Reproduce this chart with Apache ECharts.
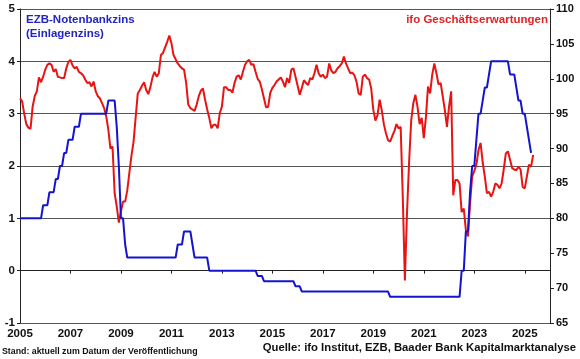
<!DOCTYPE html>
<html>
<head>
<meta charset="utf-8">
<script src="https://cdn.jsdelivr.net/npm/echarts@6/dist/echarts.min.js"></script>
<style>
html,body{margin:0;padding:0;background:#fff;}
#chart{width:580px;height:359px;}
</style>
</head>
<body>
<div id="chart"></div>
<script>
// Monthly data starting January 2005
var startYear = 2005;
var yearLabels = ['2005','2007','2009','2011','2013','2015','2017','2019','2021','2023','2025'];
var leftTicks = ['-1','0','1','2','3','4','5'];
var rightTicks = ['65','70','75','80','85','90','95','100','105','110'];

// ifo Geschäftserwartungen (Jan 2005 - May 2025)
var ifoExpectations = [
  97.2,96.8,95.0,93.5,93.0,92.8,96.0,97.5,98.2,100.2,99.5,100.3,
  101.3,102.0,102.2,102.0,101.0,101.4,100.3,100.2,100.1,100.1,101.5,102.4,
  102.7,101.9,101.5,101.7,101.0,100.8,100.5,99.9,99.4,99.5,98.9,99.6,
  98.2,97.5,97.2,96.5,95.8,94.6,92.7,90.0,90.3,83.6,81.7,79.4,
  81.0,82.4,82.4,84.0,86.5,89.0,91.0,94.5,97.9,98.4,99.0,99.5,
  98.4,97.8,98.8,100.2,101.0,100.3,100.8,103.4,103.7,104.5,105.3,106.2,
  105.1,103.4,102.8,102.2,101.8,101.5,101.3,99.4,96.3,95.8,95.6,95.4,
  96.3,97.5,98.3,98.6,97.0,95.6,94.4,92.9,93.4,93.4,92.9,95.1,
  96.0,98.8,98.8,98.4,98.4,98.0,99.4,100.3,100.5,99.9,101.0,102.0,
  102.5,102.7,102.0,102.1,101.0,100.0,99.6,98.5,97.2,95.9,96.0,98.0,
  98.7,99.1,99.6,99.9,100.2,99.6,98.8,100.1,99.4,101.3,101.5,100.3,
  99.0,97.7,98.7,99.8,99.4,99.1,100.1,99.9,100.8,102.0,100.8,100.3,
  100.6,100.1,100.3,102.2,101.2,100.8,101.0,101.5,101.8,102.2,103.2,102.2,
  101.5,100.8,100.9,100.5,99.6,97.9,97.7,100.3,100.6,100.1,99.9,98.6,
  95.5,94.0,94.8,97.0,95.5,93.5,92.2,91.2,91.0,91.8,92.5,93.5,
  92.9,93.1,83.1,71.1,80.7,88.0,94.0,96.5,97.7,96.0,93.5,94.4,
  91.5,94.5,98.9,97.9,100.6,102.2,100.8,99.2,99.4,97.5,95.5,93.1,
  96.0,98.2,83.3,85.5,85.5,85.0,80.9,81.4,78.3,77.4,82.2,86.0,
  86.8,87.7,89.8,90.8,88.0,86.0,83.6,83.8,83.1,83.8,85.0,84.8,
  84.3,85.0,87.0,89.3,89.6,88.4,87.2,87.0,86.9,87.4,87.0,84.5,
  84.3,86.0,87.7,87.4,89.1
];

// EZB-Einlagenzins (Jan 2005 - Apr 2025)
var ecbDepositRate = [
  1,1,1,1,1,1,1,1,1,1,1,1.25,
  1.25,1.25,1.5,1.5,1.5,1.75,1.75,2,2,2.25,2.25,2.5,
  2.5,2.5,2.75,2.75,2.75,3,3,3,3,3,3,3,
  3,3,3,3,3,3,3.25,3.25,3.25,3.25,2.75,2,
  1,1,0.5,0.25,0.25,0.25,0.25,0.25,0.25,0.25,0.25,0.25,
  0.25,0.25,0.25,0.25,0.25,0.25,0.25,0.25,0.25,0.25,0.25,0.25,
  0.25,0.25,0.25,0.5,0.5,0.5,0.75,0.75,0.75,0.75,0.5,0.25,
  0.25,0.25,0.25,0.25,0.25,0.25,0,0,0,0,0,0,
  0,0,0,0,0,0,0,0,0,0,0,0,
  0,0,0,0,0,-0.1,-0.1,-0.1,-0.2,-0.2,-0.2,-0.2,
  -0.2,-0.2,-0.2,-0.2,-0.2,-0.2,-0.2,-0.2,-0.2,-0.2,-0.2,-0.3,
  -0.3,-0.3,-0.4,-0.4,-0.4,-0.4,-0.4,-0.4,-0.4,-0.4,-0.4,-0.4,
  -0.4,-0.4,-0.4,-0.4,-0.4,-0.4,-0.4,-0.4,-0.4,-0.4,-0.4,-0.4,
  -0.4,-0.4,-0.4,-0.4,-0.4,-0.4,-0.4,-0.4,-0.4,-0.4,-0.4,-0.4,
  -0.4,-0.4,-0.4,-0.4,-0.4,-0.4,-0.4,-0.4,-0.5,-0.5,-0.5,-0.5,
  -0.5,-0.5,-0.5,-0.5,-0.5,-0.5,-0.5,-0.5,-0.5,-0.5,-0.5,-0.5,
  -0.5,-0.5,-0.5,-0.5,-0.5,-0.5,-0.5,-0.5,-0.5,-0.5,-0.5,-0.5,
  -0.5,-0.5,-0.5,-0.5,-0.5,-0.5,0,0,0.75,0.75,1.5,2,
  2,2.5,3,3,3.25,3.5,3.5,3.75,4,4,4,4,
  4,4,4,4,4,3.75,3.75,3.75,3.5,3.25,3.25,3,
  3,2.75,2.5,2.25
];

function toPairs(arr){
  return arr.map(function(v,i){ return [i/12, v]; });
}

var FONT = '"Liberation Sans", Arial, sans-serif';
var chart = echarts.init(document.getElementById('chart'), null, {renderer:'canvas'});
chart.setOption({
  animation:false,
  backgroundColor:'#fff',
  grid:{left:20,right:30,top:9,bottom:36},
  title:[
    {text:'EZB-Notenbankzins\n(Einlagenzins)',left:26,top:13,padding:0,
     textStyle:{color:'#2424c0',fontSize:11.5,fontWeight:'bold',fontFamily:FONT,lineHeight:14}},
    {text:'ifo Geschäftserwartungen',right:32,top:13,padding:0,
     textStyle:{color:'#e02424',fontSize:11.5,fontWeight:'bold',fontFamily:FONT,lineHeight:14}},
    {text:'Stand: aktuell zum Datum der Veröffentlichung',left:2,top:347,padding:0,
     textStyle:{color:'#111',fontSize:8.8,fontWeight:'bold',fontFamily:FONT,lineHeight:10}},
    {text:'Quelle: ifo Institut, EZB, Baader Bank Kapitalmarktanalyse',right:4,top:341,padding:0,
     textStyle:{color:'#111',fontSize:11.3,fontWeight:'bold',fontFamily:FONT,lineHeight:13}}
  ],
  xAxis:{
    type:'value',min:0,max:21,interval:2,
    axisLine:{show:true,lineStyle:{color:'#222',width:1}},
    axisTick:{show:true,length:3,lineStyle:{color:'#222'}},
    splitLine:{show:false},
    axisLabel:{color:'#111',fontSize:11.5,fontWeight:'bold',fontFamily:FONT,margin:5,
      showMaxLabel:false,
      formatter:function(v){ var k=Math.round(v/2); return (v%2===0 && yearLabels[k])?yearLabels[k]:''; }}
  },
  yAxis:[
    {type:'value',min:-1,max:5,interval:1,position:'left',
     axisLine:{show:true,lineStyle:{color:'#222',width:1}},
     axisTick:{show:true,length:3,lineStyle:{color:'#222'}},
     splitLine:{show:true,lineStyle:{color:'#555',width:1}},
     axisLabel:{color:'#111',fontSize:11.5,fontWeight:'bold',fontFamily:FONT,margin:5,
       formatter:function(v){ return leftTicks[Math.round(v+1)]; }}},
    {type:'value',min:65,max:110,interval:5,position:'right',
     axisLine:{show:true,lineStyle:{color:'#222',width:1}},
     axisTick:{show:true,length:4,lineStyle:{color:'#222'}},
     splitLine:{show:false},
     axisLabel:{color:'#111',fontSize:11,fontWeight:'bold',fontFamily:FONT,margin:6,
       formatter:function(v){ return rightTicks[Math.round((v-65)/5)]; }}}
  ],
  series:[
    {name:'ifo Geschäftserwartungen',type:'line',yAxisIndex:1,data:toPairs(ifoExpectations),
     showSymbol:false,lineStyle:{color:'#e81414',width:2},itemStyle:{color:'#e81414'},z:2},
    {name:'EZB-Notenbankzins',type:'line',yAxisIndex:0,data:toPairs(ecbDepositRate),
     showSymbol:false,lineStyle:{color:'#1414d0',width:2},itemStyle:{color:'#1414d0'},z:3}
  ]
});
</script>
</body>
</html>
